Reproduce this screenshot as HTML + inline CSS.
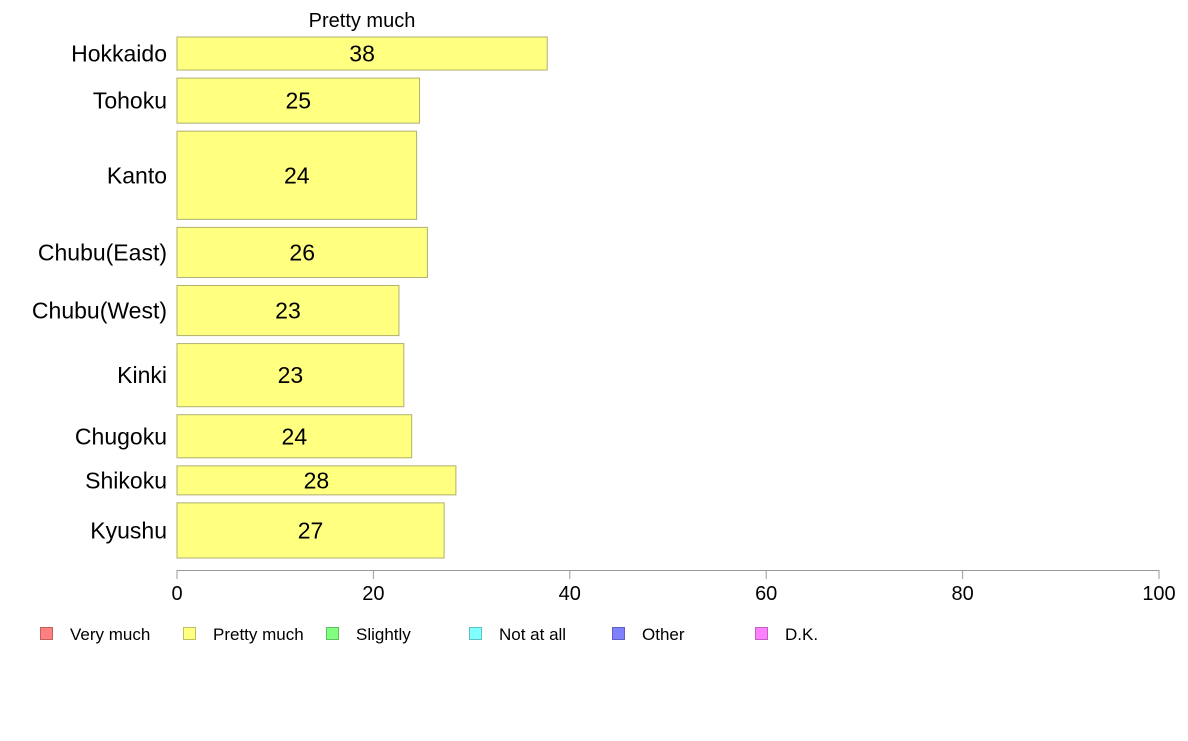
<!DOCTYPE html>
<html><head><meta charset="utf-8"><style>
body{margin:0;background:#fff;}
svg{font-family:"Liberation Sans",Arial,sans-serif;}
</style></head><body>
<svg id="chart" width="1188" height="736" xmlns="http://www.w3.org/2000/svg">
<text x="362" y="27" font-size="20" text-anchor="middle">Pretty much</text>
<g id="bars"></g>
<g id="axis"></g>
<g id="legend"></g>
</svg>
<script>
const categories=["Hokkaido","Tohoku","Kanto","Chubu(East)","Chubu(West)","Kinki","Chugoku","Shikoku","Kyushu"];
const values=[37.7,24.7,24.4,25.5,22.6,23.1,23.9,28.4,27.2];
const weights=[33,45,88,50,50,63,43,29,55];
const ticks=[0,20,40,60,80,100];
const legendLabels=["Very much","Pretty much","Slightly","Not at all","Other","D.K."];
const legendColors=["#ff8080","#ffff80","#80ff80","#80ffff","#8080ff","#ff80ff"];
const legendBorders=["#c06060","#c0c060","#60c060","#60c0c0","#6060c0","#c060c0"];

const NS="http://www.w3.org/2000/svg";
const x0=177,x1=1159,yTop=37,yBot=558,gap=8;
const xs=v=>x0+(v/100)*(x1-x0);
const totalW=weights.reduce((a,b)=>a+b,0);
const avail=(yBot-yTop)-gap*(categories.length-1);
function mk(tag,attrs,parent){const e=document.createElementNS(NS,tag);for(const k in attrs)e.setAttribute(k,attrs[k]);parent.appendChild(e);return e;}
const bars=document.getElementById('bars');
let y=yTop;
categories.forEach((c,i)=>{
  const h=weights[i]/totalW*avail;
  const r=mk('rect',{x:x0,y:y,width:xs(values[i])-x0,height:h,fill:"#ffff80",stroke:"#b0b070","stroke-width":1},bars);
  
  
  const t=mk('text',{x:(x0+xs(values[i]))/2,y:y+h/2+8,"font-size":23,"text-anchor":"middle"},bars);
  t.textContent=Math.round(values[i]);
  
  
  const l=mk('text',{x:167,y:y+h/2+8,"font-size":23,"text-anchor":"end"},bars);
  l.textContent=c;
  
  
  y+=h+gap;
});
const ax=document.getElementById('axis');
const line=mk('line',{x1:x0,x2:x1,y1:570.5,y2:570.5,stroke:"#999","stroke-width":1},ax);


ticks.forEach(t=>{
  const tl=mk('line',{x1:xs(t),x2:xs(t),y1:570,y2:579,stroke:"#999","stroke-width":1},ax);
  
  
  const tt=mk('text',{x:xs(t),y:600,"font-size":20,"text-anchor":"middle"},ax);
  tt.textContent=t;
  
  
});
const lg=document.getElementById('legend');
legendLabels.forEach((l,i)=>{
  const lx=40+i*143;
  const s=mk('rect',{x:lx+0.5,y:627.5,width:12,height:12,fill:legendColors[i],stroke:legendBorders[i]},lg);
  
  
  const t=mk('text',{x:lx+30,y:640,"font-size":17},lg);
  t.textContent=l;
  
  
});
</script>
</body></html>
